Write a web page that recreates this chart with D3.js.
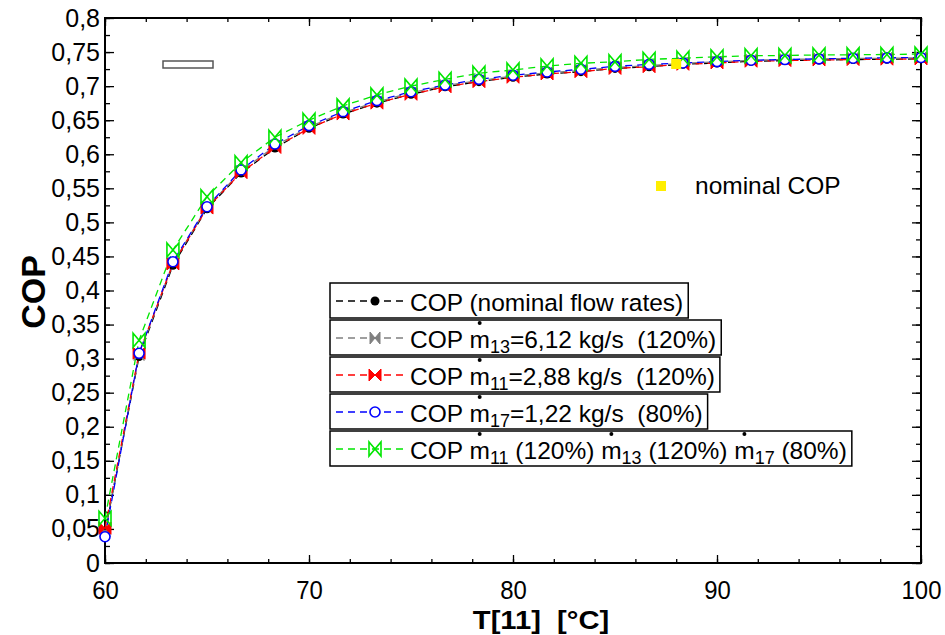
<!DOCTYPE html>
<html>
<head>
<meta charset="utf-8">
<script src="https://cdn.jsdelivr.net/npm/d3@7"></script>
<style>
  body { margin: 0; background: #fff; }
  text { font-family: "Liberation Sans", Arial, sans-serif; white-space: pre; }
</style>
</head>
<body>
<script>
// data
var temps = [60, 61.67, 63.33, 65, 66.67, 68.33, 70, 71.67, 73.33, 75, 76.67, 78.33, 80,
             81.67, 83.33, 85, 86.67, 88.33, 90, 91.67, 93.33, 95, 96.67, 98.33, 100];
var copNominal = [0.045, 0.303, 0.437, 0.520, 0.5725, 0.609, 0.638, 0.659, 0.675, 0.688, 0.699, 0.7066, 0.713,
                  0.7178, 0.7212, 0.726, 0.7285, 0.732, 0.734, 0.7365, 0.7375, 0.7383, 0.739, 0.7395, 0.740];
var copM13 = [0.047, 0.306, 0.440, 0.522, 0.575, 0.612, 0.640, 0.661, 0.677, 0.690, 0.701, 0.708, 0.7148,
              0.7195, 0.7228, 0.7275, 0.730, 0.7335, 0.7355, 0.738, 0.739, 0.740, 0.7405, 0.741, 0.7415];
var copM11 = [0.051, 0.308, 0.439, 0.521, 0.573, 0.610, 0.638, 0.659, 0.675, 0.688, 0.699, 0.7066, 0.713,
              0.7178, 0.7212, 0.726, 0.7285, 0.732, 0.734, 0.7365, 0.7375, 0.7383, 0.739, 0.7395, 0.740];
var copM17 = [0.0386, 0.3078, 0.4423, 0.523, 0.577, 0.615, 0.642, 0.6625, 0.6787, 0.6918, 0.7016, 0.710, 0.716,
              0.7207, 0.7247, 0.729, 0.732, 0.734, 0.736, 0.738, 0.739, 0.740, 0.741, 0.7415, 0.742];
var copAll = [0.0656, 0.327, 0.4595, 0.5377, 0.5876, 0.625, 0.650, 0.671, 0.687, 0.700, 0.710, 0.719, 0.7237,
              0.7295, 0.7335, 0.7358, 0.7393, 0.741, 0.743, 0.7447, 0.745, 0.7457, 0.746, 0.7465, 0.747];
var nominalPoint = [88, 0.7325];

var legendLabels = [
  "COP (nominal flow rates)",
  "COP m_{13}=6,12 kg/s  (120%)",
  "COP m_{11}=2,88 kg/s  (120%)",
  "COP m_{17}=1,22 kg/s  (80%)",
  "COP m_{11} (120%) m_{13} (120%) m_{17} (80%)"
];

var series = [
  {values: copNominal, color: "#000000", marker: "dot"},
  {values: copM13, color: "#808080", marker: "bowtieNarrow"},
  {values: copM11, color: "#ff0000", marker: "bowtie"},
  {values: copM17, color: "#0000ff", marker: "ring"},
  {values: copAll, color: "#00e600", marker: "bowtieOpen"}
];

var W = 945, H = 635;
var margin = {top: 18, right: 24, bottom: 72, left: 105},
    width = W - margin.left - margin.right,
    height = H - margin.top - margin.bottom;

var svg = d3.select("body").append("svg")
    .attr("width", W)
    .attr("height", H);

var g = svg.append("g")
    .attr("transform", "translate(" + margin.left + "," + margin.top + ")");

var x = d3.scaleLinear().domain([60, 100]).range([0, width]);
var y = d3.scaleLinear().domain([0, 0.8]).range([height, 0]);

var fmt = function(d) { return d3.format(".2~f")(d).replace(".", ","); };

// axes, ticks pointing inward
var xMinor = d3.range(60, 100.1, 2);
var xMajor = [60, 70, 80, 90, 100];
var yMinor = d3.range(0, 0.8001, 0.025);
var yMajor = d3.range(0, 0.8001, 0.05);

var axes = [];
axes.push(g.append("g").attr("transform", "translate(0," + height + ")")
    .call(d3.axisBottom(x).tickValues(xMinor).tickSize(-4).tickFormat("")));
var xb = g.append("g").attr("transform", "translate(0," + height + ")")
    .call(d3.axisBottom(x).tickValues(xMajor).tickSize(-8).tickPadding(18));
axes.push(xb);
axes.push(g.append("g").call(d3.axisTop(x).tickValues(xMinor).tickSize(-4).tickFormat("")));
axes.push(g.append("g").call(d3.axisTop(x).tickValues(xMajor).tickSize(-8).tickFormat("")));
axes.push(g.append("g").call(d3.axisLeft(y).tickValues(yMinor).tickSize(-5).tickFormat("")));
var yl = g.append("g").call(d3.axisLeft(y).tickValues(yMajor).tickSize(-9).tickPadding(5).tickFormat(fmt));
axes.push(yl);
axes.push(g.append("g").attr("transform", "translate(" + width + ",0)")
    .call(d3.axisRight(y).tickValues(yMinor).tickSize(-5).tickFormat("")));
axes.push(g.append("g").attr("transform", "translate(" + width + ",0)")
    .call(d3.axisRight(y).tickValues(yMajor).tickSize(-9).tickFormat("")));

axes.forEach(function(a) {
  a.select(".domain").remove();
  a.selectAll(".tick line").attr("stroke", "#000").attr("stroke-width", 1.3);
  a.selectAll("text").attr("fill", "#000").attr("font-family", "Liberation Sans, Arial, sans-serif");
});
yl.selectAll("text").attr("font-size", 25);
// x labels are a little narrower in the original
xb.selectAll("text").attr("font-size", 26).attr("transform", "scale(0.92,1)");

// frame
g.append("rect")
    .attr("width", width).attr("height", height)
    .attr("fill", "none").attr("stroke", "#000").attr("stroke-width", 2);

// marker shapes
function drawMarker(sel, type, color) {
  if (type === "dot") {
    sel.append("circle").attr("r", 4.5).attr("fill", color);
  } else if (type === "ring") {
    sel.append("circle").attr("r", 5).attr("fill", "#fff").attr("stroke", color).attr("stroke-width", 1.6);
  } else if (type === "bowtie" || type === "bowtieNarrow") {
    var w = type === "bowtie" ? 6 : 5;
    sel.append("path")
      .attr("d", "M" + (-w) + ",-6L0,0L" + (-w) + ",6ZM" + w + ",-6L0,0L" + w + ",6Z")
      .attr("fill", color).attr("stroke", color).attr("stroke-width", 1);
  } else if (type === "bowtieOpen") {
    sel.append("path")
      .attr("d", "M-6,-7L6,7L6,-7L-6,7Z")
      .attr("fill", "none").attr("stroke", color).attr("stroke-width", 1.6);
  }
}

var line = d3.line()
    .x(function(d, i) { return x(temps[i]); })
    .y(function(d) { return y(d); });

series.forEach(function(s) {
  g.append("path")
      .datum(s.values)
      .attr("fill", "none")
      .attr("stroke", s.color)
      .attr("stroke-width", 1.3)
      .attr("stroke-dasharray", "7,5")
      .attr("d", line);
});
series.forEach(function(s) {
  g.selectAll(null)
      .data(s.values)
      .enter().append("g")
      .attr("transform", function(d, i) { return "translate(" + x(temps[i]) + "," + y(d) + ")"; })
      .each(function() { drawMarker(d3.select(this), s.marker, s.color); });
});

// nominal COP point
g.append("rect")
    .attr("x", x(nominalPoint[0]) - 5).attr("y", y(nominalPoint[1]) - 5)
    .attr("width", 10).attr("height", 10)
    .attr("fill", "#ffee00");

// small empty box top-left
svg.append("rect")
    .attr("x", 163).attr("y", 61).attr("width", 50).attr("height", 7)
    .attr("fill", "#fff").attr("stroke", "#555").attr("stroke-width", 1.5);

// nominal COP legend
svg.append("rect")
    .attr("x", 656).attr("y", 181).attr("width", 10).attr("height", 10)
    .attr("fill", "#ffee00");
svg.append("text")
    .attr("x", 695).attr("y", 194)
    .attr("font-size", 24.5)
    .text("nominal COP");

// series legend
var legend = svg.append("g");
legendLabels.forEach(function(label, i) {
  var top = 283 + i * 37;
  var row = legend.append("g");
  var box = row.append("rect")
      .attr("x", 330).attr("y", top).attr("height", 35)
      .attr("fill", "#fff").attr("stroke", "#000").attr("stroke-width", 1.5);
  row.append("line")
      .attr("x1", 336).attr("x2", 407).attr("y1", top + 18).attr("y2", top + 18)
      .attr("stroke", series[i].color).attr("stroke-width", 1.3).attr("stroke-dasharray", "7,5");
  var mk = row.append("g").attr("transform", "translate(375," + (top + 18) + ")");
  drawMarker(mk, series[i].marker, series[i].color);

  var text = row.append("text")
      .attr("x", 410).attr("y", top + 27.5)
      .attr("font-size", 24.5);
  var parts = label.split(/_\{(\d+)\}/);
  var mIdx = [], pos = 0;
  parts.forEach(function(p, k) {
    if (k % 2 === 0) {
      text.append("tspan").attr("dy", k === 0 ? 0 : -5).text(p);
      if (k < parts.length - 1) mIdx.push(pos + p.length - 1);
    } else {
      text.append("tspan").attr("font-size", 18).attr("dy", 5).text(p);
    }
    pos += p.length;
  });
  var bb = text.node().getBBox();
  box.attr("width", bb.x + bb.width + 5 - 330);
  // dot over each m (mass flow)
  mIdx.forEach(function(ci) {
    var ext = text.node().getExtentOfChar(ci);
    row.append("circle")
        .attr("cx", ext.x + ext.width / 2).attr("cy", top + 3)
        .attr("r", 2).attr("fill", "#000");
  });
});

// axis titles
svg.append("text")
    .attr("transform", "translate(541,629) scale(1.1,1)")
    .attr("text-anchor", "middle")
    .attr("font-size", 26.5).attr("font-weight", "bold")
    .text("T[11]  [°C]");
svg.append("text")
    .attr("transform", "translate(45,292) rotate(-90)")
    .attr("text-anchor", "middle")
    .attr("font-size", 34).attr("font-weight", "bold")
    .text("COP");
</script>
</body>
</html>
